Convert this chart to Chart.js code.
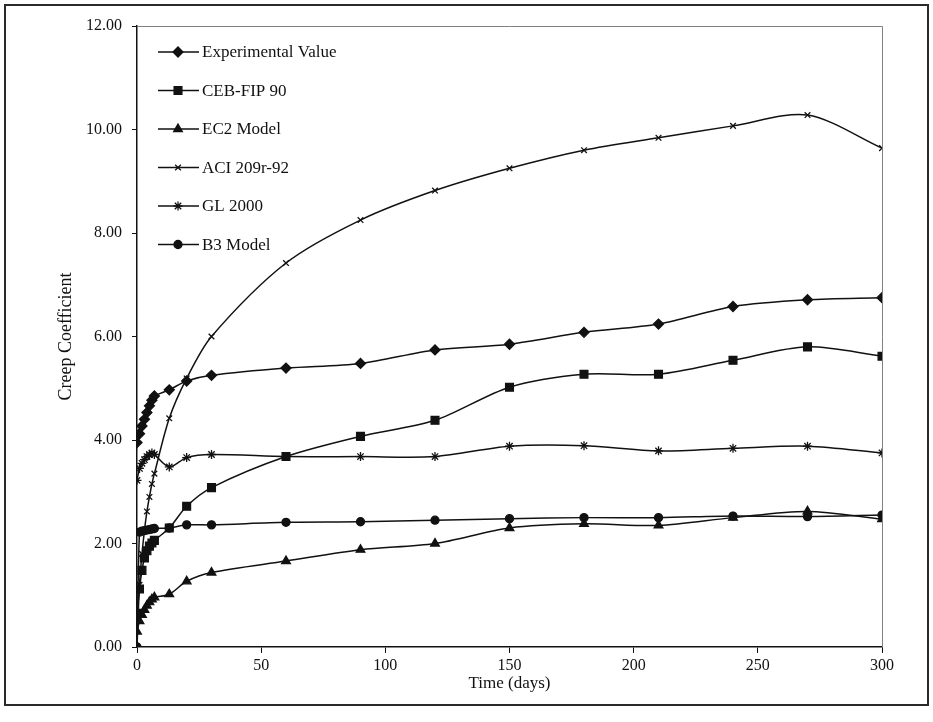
<!DOCTYPE html>
<html>
<head>
<meta charset="utf-8">
<title>Creep Coefficient</title>
<script src="https://cdn.jsdelivr.net/npm/chart.js@4.4.1/dist/chart.umd.min.js"></script>
<style>
    html, body { margin: 0; padding: 0; background: #fff; }
    #wrap { width: 933px; height: 722px; position: relative; }
</style>
</head>
<body>
<div id="wrap"><canvas id="creepChart" width="933" height="722"></canvas></div>
<script>
// Age of concrete since loading (days)
const days = [0, 1, 2, 3, 4, 5, 6, 7, 13, 20, 30, 60, 90, 120, 150, 180, 210, 240, 270, 300];

// Creep coefficient per model
const experimental = [3.95, 4.12, 4.27, 4.40, 4.53, 4.66, 4.77, 4.85, 4.97, 5.14, 5.25, 5.39, 5.48, 5.74, 5.85, 6.08, 6.24, 6.58, 6.71, 6.75];
const cebFip90 = [0.65, 1.12, 1.48, 1.72, 1.86, 1.95, 2.01, 2.06, 2.30, 2.72, 3.08, 3.68, 4.07, 4.38, 5.02, 5.27, 5.27, 5.54, 5.80, 5.62];
const ec2Model = [0.30, 0.50, 0.62, 0.72, 0.80, 0.87, 0.92, 0.96, 1.02, 1.27, 1.44, 1.66, 1.88, 2.00, 2.30, 2.38, 2.35, 2.50, 2.62, 2.47];
const aci209 = [0.00, 1.20, 1.80, 2.25, 2.62, 2.90, 3.15, 3.35, 4.42, 5.19, 6.00, 7.42, 8.25, 8.82, 9.25, 9.60, 9.84, 10.07, 10.28, 9.64];
const gl2000 = [3.22, 3.45, 3.55, 3.62, 3.68, 3.72, 3.75, 3.72, 3.48, 3.66, 3.72, 3.68, 3.68, 3.68, 3.88, 3.89, 3.79, 3.84, 3.88, 3.75];
const b3Model = [0.00, 2.22, 2.24, 2.25, 2.26, 2.27, 2.28, 2.29, 2.30, 2.36, 2.36, 2.41, 2.42, 2.45, 2.48, 2.50, 2.50, 2.53, 2.52, 2.55];

const seriesNames = ['Experimental Value', 'CEB-FIP 90', 'EC2 Model', 'ACI 209r-92', 'GL 2000', 'B3 Model'];
const seriesValues = [experimental, cebFip90, ec2Model, aci209, gl2000, b3Model];
const seriesMarkers = [
    { style: 'rectRot', radius: 5 },
    { style: 'rect', radius: 5.5 },
    { style: 'triangle', radius: 5 },
    { style: 'crossRot', radius: 4 },
    { style: 'star', radius: 4.5 },
    { style: 'circle', radius: 4 }
];

const yTicks = [0, 2, 4, 6, 8, 10, 12];
const xTicks = [0, 50, 100, 150, 200, 250, 300];

const ink = '#111';
const serif = "'Liberation Serif', 'Times New Roman', serif";

document.addEventListener('DOMContentLoaded', () => {
    const ctx = document.getElementById('creepChart')?.getContext('2d');
    if (!ctx) return;

    const datasets = seriesNames.map((name, i) => ({
        label: name,
        data: days.map((d, j) => ({ x: d, y: seriesValues[i][j] })),
        borderColor: ink,
        borderWidth: 1.5,
        backgroundColor: ink,
        pointStyle: seriesMarkers[i].style,
        pointRadius: seriesMarkers[i].radius,
        pointBackgroundColor: ink,
        pointBorderColor: ink,
        pointBorderWidth: 1.3,
        tension: 0.3,
        fill: false
    }));

    // Outer frame plus the grey top/right edge of the plot area
    const framePlugin = {
        id: 'frame',
        beforeDatasetsDraw(chart) {
            const { ctx: c, chartArea: a } = chart;
            c.save();
            c.strokeStyle = '#808080';
            c.lineWidth = 1;
            c.beginPath();
            c.moveTo(a.left, a.top + 0.5);
            c.lineTo(a.right + 0.5, a.top + 0.5);
            c.lineTo(a.right + 0.5, a.bottom);
            c.stroke();
            c.restore();
        },
        afterDraw(chart) {
            const c = chart.ctx;
            c.save();
            c.strokeStyle = '#2a2a2a';
            c.lineWidth = 2;
            c.strokeRect(5, 5, 923, 700);
            c.restore();
        }
    };

    // Legend drawn as a short line with the series marker in the middle
    const lineLegend = {
        id: 'lineLegend',
        afterDatasetsDraw(chart) {
            const c = chart.ctx;
            c.save();
            c.font = `17px ${serif}`;
            c.textBaseline = 'middle';
            chart.data.datasets.forEach((ds, i) => {
                const y = 52 + i * 38.5;
                c.strokeStyle = ink;
                c.fillStyle = ink;
                c.lineWidth = 1.5;
                c.beginPath();
                c.moveTo(158, y);
                c.lineTo(199, y);
                c.stroke();
                c.lineWidth = 1.3;
                Chart.helpers.drawPoint(c, {
                    pointStyle: ds.pointStyle,
                    radius: ds.pointRadius,
                    rotation: 0,
                    borderWidth: 1.3
                }, 178, y);
                c.fillStyle = ink;
                c.fillText(ds.label, 202, y + 1);
            });
            c.restore();
        }
    };

    new Chart(ctx, {
        type: 'line',
        data: { datasets },
        options: {
            responsive: false,
            animation: false,
            layout: { padding: { top: 26, right: 51, left: 0, bottom: 0 } },
            plugins: {
                legend: { display: false },
                tooltip: { enabled: false }
            },
            scales: {
                x: {
                    type: 'linear',
                    min: 0,
                    max: 300,
                    afterBuildTicks: (scale) => { scale.ticks = xTicks.map(v => ({ value: v })); },
                    afterFit: (scale) => { scale.height = 75; },
                    grid: { drawOnChartArea: false, drawTicks: true, tickLength: 6, color: ink, lineWidth: 1 },
                    border: { display: true, color: ink, width: 1.5 },
                    ticks: { color: ink, font: { family: serif, size: 16 }, padding: 3, maxRotation: 0 },
                    title: {
                        display: true,
                        text: 'Time (days)',
                        color: ink,
                        font: { family: serif, size: 17 },
                        padding: { top: 0, bottom: 28 }
                    }
                },
                y: {
                    min: 0,
                    max: 12,
                    afterBuildTicks: (scale) => { scale.ticks = yTicks.map(v => ({ value: v })); },
                    afterFit: (scale) => { scale.width = 137; },
                    grid: { drawOnChartArea: false, drawTicks: true, tickLength: 5, color: ink, lineWidth: 1 },
                    border: { display: true, color: ink, width: 1.5 },
                    ticks: {
                        color: ink,
                        font: { family: serif, size: 16 },
                        padding: 10,
                        callback: (v) => Number(v).toFixed(2)
                    },
                    title: {
                        display: true,
                        text: 'Creep Coefficient',
                        color: ink,
                        font: { family: serif, size: 18 },
                        padding: { top: 55, bottom: 0 }
                    }
                }
            }
        },
        plugins: [framePlugin, lineLegend]
    });
});
</script>
</body>
</html>
